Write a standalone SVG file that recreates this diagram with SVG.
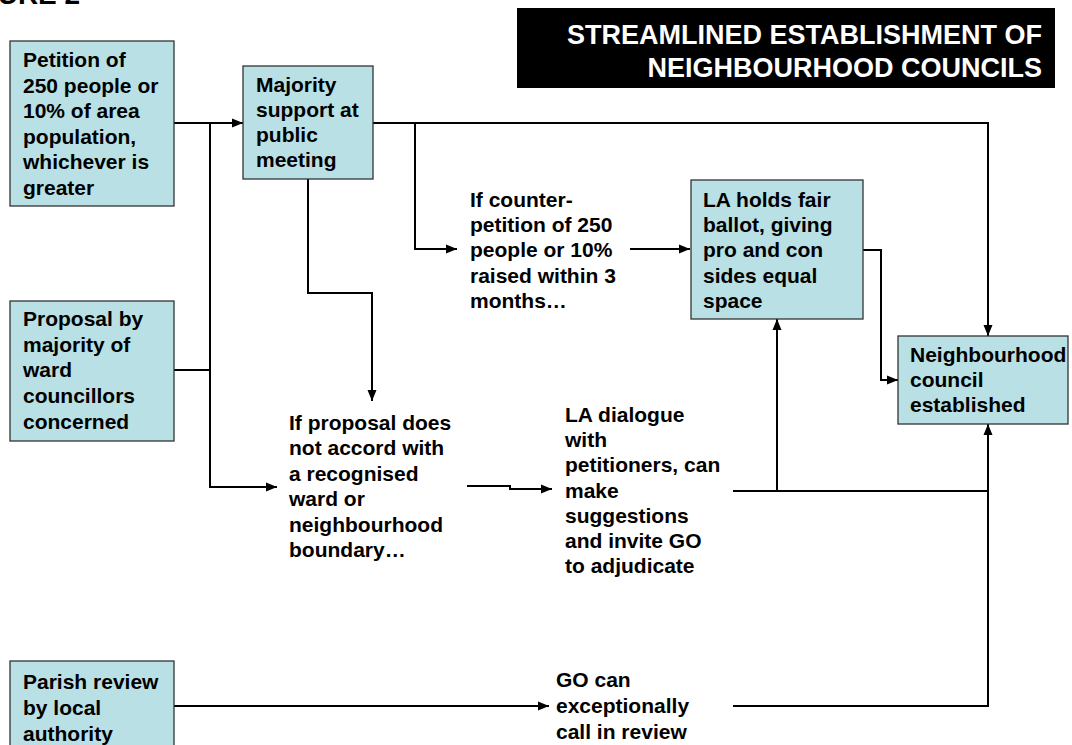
<svg xmlns="http://www.w3.org/2000/svg" width="1072" height="745" viewBox="0 0 1072 745">
<style>
.t{font-family:"Liberation Sans",Arial,sans-serif;font-weight:bold;font-size:21px;fill:#000}
.box{fill:#b9e0e4;stroke:#333;stroke-width:1.3}
.c{fill:none;stroke:#000;stroke-width:2}
.ttl{font-family:"Liberation Sans",Arial,sans-serif;font-weight:bold;font-size:27px;fill:#fff}
</style>
<defs>
<marker id="ah" markerUnits="userSpaceOnUse" markerWidth="12" markerHeight="10" refX="11" refY="5" orient="auto">
<path d="M0,0.5 L11,5 L0,9.5 z" fill="#000"/>
</marker>
</defs>
<rect width="1072" height="745" fill="#fff"/>
<text x="-49" y="4" font-family="Liberation Sans,Arial,sans-serif" font-weight="bold" font-size="28">FIGURE 2</text>
<g id="title">
<rect x="517" y="8" width="538" height="80" fill="#000"/>
<text class="ttl" text-anchor="end"><tspan x="1042" y="44">STREAMLINED ESTABLISHMENT OF</tspan><tspan x="1042" y="77">NEIGHBOURHOOD COUNCILS</tspan></text>
</g>
<g id="connectors">
<path class="c" d="M174,123 H243" marker-end="url(#ah)"/>
<path class="c" d="M174,370 H210"/>
<path class="c" d="M210,123 V487 H277" marker-end="url(#ah)"/>
<path class="c" d="M373,123 H988 V336" marker-end="url(#ah)"/>
<path class="c" d="M415,123 V249 H457" marker-end="url(#ah)"/>
<path class="c" d="M630,249 H690" marker-end="url(#ah)"/>
<path class="c" d="M308,179 V293 H372 V401" marker-end="url(#ah)"/>
<path class="c" d="M467,486 H510 V489 H552" marker-end="url(#ah)"/>
<path class="c" d="M733,491 H988"/>
<path class="c" d="M777,491 V319" marker-end="url(#ah)"/>
<path class="c" d="M863,250 H881 V380 H898" marker-end="url(#ah)"/>
<path class="c" d="M174,706 H549" marker-end="url(#ah)"/>
<path class="c" d="M733,706 H988 V424" marker-end="url(#ah)"/>
</g>
<g id="petition">
<rect class="box" x="10" y="41" width="164" height="165"/>
<text class="t"><tspan x="23" y="67">Petition of</tspan><tspan x="23" y="92.6">250 people or</tspan><tspan x="23" y="118.2">10% of area</tspan><tspan x="23" y="143.8">population,</tspan><tspan x="23" y="169.4">whichever is</tspan><tspan x="23" y="195">greater</tspan></text>
</g>
<g id="majority">
<rect class="box" x="243" y="66" width="130" height="113"/>
<text class="t"><tspan x="256" y="92">Majority</tspan><tspan x="256" y="117">support at</tspan><tspan x="256" y="142">public</tspan><tspan x="256" y="167">meeting</tspan></text>
</g>
<g id="proposal">
<rect class="box" x="10" y="301" width="164" height="140"/>
<text class="t"><tspan x="23" y="326">Proposal by</tspan><tspan x="23" y="351.7">majority of</tspan><tspan x="23" y="377.4">ward</tspan><tspan x="23" y="403.1">councillors</tspan><tspan x="23" y="428.8">concerned</tspan></text>
</g>
<g id="parish">
<rect class="box" x="10" y="661" width="164" height="90"/>
<text class="t"><tspan x="23" y="689">Parish review</tspan><tspan x="23" y="715">by local</tspan><tspan x="23" y="741">authority</tspan></text>
</g>
<g id="counter">
<text class="t"><tspan x="470" y="207">If counter-</tspan><tspan x="470" y="232.2">petition of 250</tspan><tspan x="470" y="257.4">people or 10%</tspan><tspan x="470" y="282.6">raised within 3</tspan><tspan x="470" y="307.8">months…</tspan></text>
</g>
<g id="ballot">
<rect class="box" x="691" y="180" width="172" height="139"/>
<text class="t"><tspan x="703" y="207">LA holds fair</tspan><tspan x="703" y="232.2">ballot, giving</tspan><tspan x="703" y="257.4">pro and con</tspan><tspan x="703" y="282.6">sides equal</tspan><tspan x="703" y="307.8">space</tspan></text>
</g>
<g id="established">
<rect class="box" x="898" y="336" width="170" height="88"/>
<text class="t"><tspan x="910" y="362">Neighbourhood</tspan><tspan x="910" y="387">council</tspan><tspan x="910" y="412">established</tspan></text>
</g>
<g id="boundary">
<text class="t"><tspan x="289" y="430">If proposal does</tspan><tspan x="289" y="455.4">not accord with</tspan><tspan x="289" y="480.8">a recognised</tspan><tspan x="289" y="506.2">ward or</tspan><tspan x="289" y="531.6">neighbourhood</tspan><tspan x="289" y="557">boundary…</tspan></text>
</g>
<g id="dialogue">
<text class="t"><tspan x="565" y="422">LA dialogue</tspan><tspan x="565" y="447.2">with</tspan><tspan x="565" y="472.4">petitioners, can</tspan><tspan x="565" y="497.6">make</tspan><tspan x="565" y="522.8">suggestions</tspan><tspan x="565" y="548">and invite GO</tspan><tspan x="565" y="573.2">to adjudicate</tspan></text>
</g>
<g id="callin">
<text class="t"><tspan x="556" y="687">GO can</tspan><tspan x="556" y="713">exceptionally</tspan><tspan x="556" y="739">call in review</tspan></text>
</g>
</svg>
